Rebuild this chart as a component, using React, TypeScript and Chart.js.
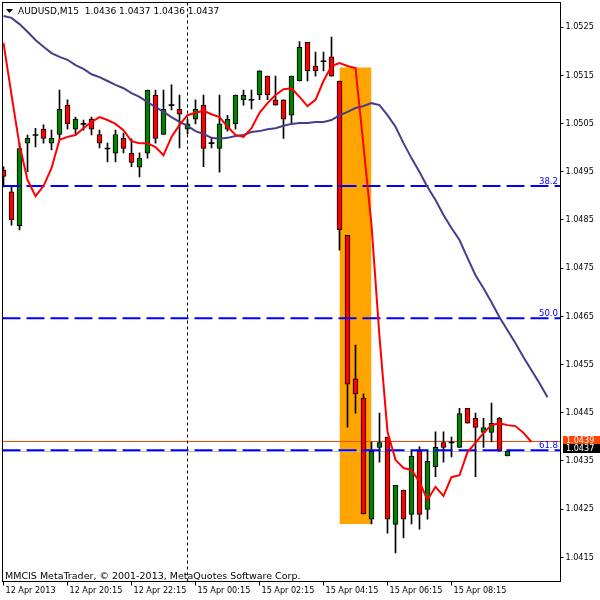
import React, { useEffect, useRef } from 'react';
import { Chart, registerables } from 'chart.js';

Chart.register(...registerables);

const FONT = "'DejaVu Sans Condensed', 'DejaVu Sans', sans-serif";
const FONT_WIDE = "'DejaVu Sans', sans-serif";

const symbol = 'AUDUSD';
const period = 'M15';
const copyright = 'MMCIS MetaTrader, \u00A9 2001-2013, MetaQuotes Software Corp.';

// OHLC of the 64 M15 bars (bar index 0 = 12 Apr 18:15)
const opens = [
  1.04953, 1.04908, 1.04838, 1.05009, 1.05026, 1.05038, 1.05009, 1.05027, 1.05088, 1.05038,
  1.05049, 1.05059, 1.05027, 1.04998, 1.04988, 1.05019, 1.04988, 1.04959, 1.04988, 1.05109,
  1.05027, 1.05088, 1.05079, 1.05038, 1.05059, 1.05088, 1.05009, 1.04998, 1.05038, 1.05049,
  1.05099, 1.05099, 1.05109, 1.05148, 1.05099, 1.05099, 1.05067, 1.05138, 1.05218, 1.05169,
  1.05179, 1.05188, 1.05138, 1.04818, 1.04520, 1.04480, 1.04229, 1.04378, 1.04399, 1.04218,
  1.04289, 1.04239, 1.04370, 1.04249, 1.04338, 1.04388, 1.04388, 1.04378, 1.04459, 1.04438,
  1.04409, 1.04409, 1.04438, 1.04360,
];
const highs = [
  1.04960, 1.04918, 1.05009, 1.05026, 1.05040, 1.05047, 1.05036, 1.05119, 1.05099, 1.05063,
  1.05057, 1.05063, 1.05036, 1.05009, 1.05036, 1.05030, 1.05018, 1.04989, 1.05119, 1.05119,
  1.05119, 1.05130, 1.05109, 1.05059, 1.05099, 1.05109, 1.05019, 1.05109, 1.05067, 1.05109,
  1.05119, 1.05119, 1.05159, 1.05148, 1.05148, 1.05099, 1.05148, 1.05220, 1.05218, 1.05198,
  1.05198, 1.05229, 1.05138, 1.04818, 1.04590, 1.04489, 1.04389, 1.04449, 1.04399, 1.04299,
  1.04289, 1.04370, 1.04379, 1.04370, 1.04410, 1.04410, 1.04399, 1.04459, 1.04459, 1.04449,
  1.04438, 1.04470, 1.04440, 1.04370,
];
const lows = [
  1.04918, 1.04839, 1.04829, 1.04950, 1.05001, 1.05009, 1.04995, 1.05016, 1.05038, 1.05026,
  1.05036, 1.05026, 1.04999, 1.04970, 1.04970, 1.04989, 1.04960, 1.04939, 1.04978, 1.05009,
  1.05027, 1.05078, 1.04999, 1.05028, 1.05049, 1.04960, 1.04999, 1.04949, 1.05034, 1.05038,
  1.05088, 1.05080, 1.05099, 1.05099, 1.05088, 1.05019, 1.05049, 1.05138, 1.05138, 1.05148,
  1.05159, 1.05148, 1.04787, 1.04420, 1.04449, 1.04240, 1.04219, 1.04347, 1.04200, 1.04159,
  1.04190, 1.04219, 1.04208, 1.04229, 1.04317, 1.04347, 1.04358, 1.04378, 1.04428, 1.04317,
  1.04378, 1.04389, 1.04370, 1.04360,
];
const closes = [
  1.04940, 1.04850, 1.04998, 1.05019, 1.05026, 1.05019, 1.05019, 1.05079, 1.05049, 1.05059,
  1.05049, 1.05038, 1.05009, 1.04998, 1.05027, 1.04998, 1.04969, 1.04978, 1.05119, 1.05019,
  1.05079, 1.05088, 1.05069, 1.05049, 1.05079, 1.04998, 1.05009, 1.05049, 1.05059, 1.05109,
  1.05109, 1.05099, 1.05159, 1.05109, 1.05088, 1.05059, 1.05148, 1.05208, 1.05159, 1.05159,
  1.05179, 1.05148, 1.04829, 1.04509, 1.04489, 1.04240, 1.04370, 1.04388, 1.04229, 1.04299,
  1.04229, 1.04360, 1.04239, 1.04349, 1.04378, 1.04378, 1.04388, 1.04448, 1.04428, 1.04419,
  1.04419, 1.04428, 1.04370, 1.04370,
];

// fast MA (red), plotted shifted forward, 67 points
const maFast = [
  1.05217, 1.05109, 1.05005, 1.04933, 1.04899, 1.04920, 1.04957, 1.05016, 1.05022, 1.05026,
  1.05040, 1.05053, 1.05063, 1.05057, 1.05049, 1.05036, 1.05013, 1.05009, 1.05009, 1.05001,
  1.04984, 1.05022, 1.05047, 1.05067, 1.05072, 1.05076, 1.05069, 1.05063, 1.05043, 1.05026,
  1.05022, 1.05040, 1.05072, 1.05092, 1.05109, 1.05121, 1.05123, 1.05105, 1.05086, 1.05099,
  1.05138, 1.05169, 1.05175, 1.05169, 1.05165, 1.05003, 1.04839, 1.04607, 1.04410, 1.04352,
  1.04335, 1.04331, 1.04306, 1.04269, 1.04296, 1.04277, 1.04316, 1.04320, 1.04368, 1.04387,
  1.04408, 1.04424, 1.04428, 1.04424, 1.04422, 1.04408, 1.04389,
];
// slow MA (dark slate blue), plotted shifted forward, 69 points
const maSlow = [
  1.05273, 1.05269, 1.05256, 1.05240, 1.05223, 1.05209, 1.05196, 1.05188, 1.05182, 1.05171,
  1.05163, 1.05152, 1.05146, 1.05138, 1.05130, 1.05123, 1.05113, 1.05105, 1.05094, 1.05084,
  1.05074, 1.05063, 1.05053, 1.05045, 1.05034, 1.05028, 1.05020, 1.05018, 1.05020, 1.05024,
  1.05026, 1.05032, 1.05034, 1.05038, 1.05040, 1.05045, 1.05049, 1.05051, 1.05051, 1.05053,
  1.05053, 1.05057, 1.05067, 1.05074, 1.05082, 1.05086, 1.05092, 1.05088, 1.05067, 1.05043,
  1.05009, 1.04978, 1.04949, 1.04918, 1.04891, 1.04860, 1.04833, 1.04808, 1.04771, 1.04735,
  1.04708, 1.04679, 1.04648, 1.04621, 1.04594, 1.04565, 1.04538, 1.04511, 1.04482,
];

const xTickBars = [0, 8, 16, 24, 32, 40, 48, 56];
const xTickLabels = [
  '12 Apr 2013', '12 Apr 20:15', '12 Apr 22:15', '15 Apr 00:15',
  '15 Apr 02:15', '15 Apr 04:15', '15 Apr 06:15', '15 Apr 08:15',
];
const yTicks = [1.0415, 1.0425, 1.0435, 1.0445, 1.0455, 1.0465, 1.0475, 1.0485, 1.0495, 1.0505, 1.0515, 1.0525];
const xView = [-0.125, 69.625];
const yView = [1.0409959, 1.0530083];

const daySeparators = [23];
const fibLabels = ['38.2', '50.0', '61.8'];
const fibPrices = [1.0492, 1.04646, 1.04372];
const bidPrice = 1.0439;
const askPrice = 1.0437;
const zoneBars = [42, 46];
const zonePrices = [1.05166, 1.04219];

const GREEN = '#008000';
const RED = '#FF0000';
const BID_COLOR = '#FF4500';
const ASK_COLOR = '#C0C0C0';

function zeroPadding(s: any) {
  s.paddingTop = 0;
  s.paddingBottom = 0;
  s.paddingLeft = 0;
  s.paddingRight = 0;
}

function buildConfig(): any {
  const idx = opens.map((_, i) => i);
  const isDoji = (i: number) => Math.abs(opens[i] - closes[i]) < 0.00003;
  const bodies = idx.map((i) => ({
    x: i,
    y: isDoji(i) ? [opens[i] - 0.00001, opens[i] + 0.00001] : [opens[i], closes[i]],
  }));
  const bodyColors = idx.map((i) => (isDoji(i) ? '#000000' : closes[i] > opens[i] ? GREEN : RED));
  const bodyBorders = idx.map((i) => (isDoji(i) ? 0 : 1));
  const wicks = idx.map((i) => ({ x: i, y: [lows[i], highs[i]] }));

  const hLine = (p: number) => [{ x: xView[0], y: p }, { x: xView[1], y: p }];

  const datasets: any[] = [
    // moving averages (top)
    { type: 'line', data: maFast.map((v, i) => ({ x: i, y: v })), borderColor: '#FF0000', borderWidth: 2, pointRadius: 0, fill: false, tension: 0, order: 1 },
    { type: 'line', data: maSlow.map((v, i) => ({ x: i, y: v })), borderColor: '#483D8B', borderWidth: 2, pointRadius: 0, fill: false, tension: 0, order: 2 },
    // fibonacci levels
    ...fibPrices.map((p) => ({ type: 'line', data: hLine(p), borderColor: '#0000FF', borderWidth: 2, borderDash: [18, 6], pointRadius: 0, fill: false, order: 3 })),
    // candle bodies
    { type: 'bar', data: bodies, backgroundColor: bodyColors, borderColor: '#000000', borderWidth: bodyBorders, borderSkipped: false, barThickness: 5, grouped: false, order: 5 },
    // wicks
    { type: 'bar', data: wicks, backgroundColor: '#000000', borderColor: '#000000', borderWidth: 0, barThickness: 1, grouped: false, order: 6 },
    // day separator
    ...daySeparators.map((b) => ({ type: 'line', data: [{ x: b, y: yView[1] }, { x: b, y: yView[0] }], borderColor: '#000000', borderWidth: 1, borderDash: [3, 3], pointRadius: 0, fill: false, order: 7 })),
    // highlighted zone (rectangle)
    { type: 'line', label: 'zone', data: zoneBars.map((b) => ({ x: b, y: zonePrices[0] })), borderColor: 'rgba(0,0,0,0)', borderWidth: 0, pointRadius: 0, fill: '+1', backgroundColor: '#FFA500', order: 9 },
    { type: 'line', data: zoneBars.map((b) => ({ x: b, y: zonePrices[1] })), borderColor: 'rgba(0,0,0,0)', borderWidth: 0, pointRadius: 0, fill: false, order: 9 },
  ];

  const overlay = {
    id: 'mtOverlay',
    beforeDraw(chart: any) {
      const { ctx, width, height } = chart;
      ctx.save();
      ctx.fillStyle = '#FFFFFF';
      ctx.fillRect(0, 0, width, height);
      ctx.restore();
    },
    afterDatasetDraw(chart: any, args: any) {
      if (chart.data.datasets[args.index].label !== 'zone') return;
      // bid / ask price lines, just above the highlighted zone
      const { ctx, chartArea: a, scales } = chart;
      const ys = scales.y;
      ctx.save();
      ctx.setLineDash([]);
      ctx.lineWidth = 1;
      [
        [askPrice, ASK_COLOR],
        [bidPrice, BID_COLOR],
      ].forEach(([p, col]: any) => {
        const y = Math.floor(ys.getPixelForValue(p)) + 0.5;
        ctx.strokeStyle = col;
        ctx.beginPath();
        ctx.moveTo(a.left, y);
        ctx.lineTo(a.right, y);
        ctx.stroke();
      });
      ctx.restore();
    },
    afterDraw(chart: any) {
      const { ctx, chartArea: a, scales } = chart;
      const ys = scales.y;
      ctx.save();
      // frame
      ctx.strokeStyle = '#000000';
      ctx.lineWidth = 1;
      ctx.setLineDash([]);
      ctx.strokeRect(a.left, a.top, a.right - a.left, a.bottom - a.top);
      // fib labels
      ctx.font = `9.5px ${FONT}`;
      ctx.fillStyle = '#0000FF';
      ctx.textAlign = 'right';
      ctx.textBaseline = 'alphabetic';
      fibPrices.forEach((p, i) => {
        ctx.fillText(fibLabels[i], a.right - 2.5, ys.getPixelForValue(p) - 2.5);
      });
      // title
      ctx.fillStyle = '#000000';
      ctx.beginPath();
      ctx.moveTo(6, 9);
      ctx.lineTo(13, 9);
      ctx.lineTo(9.5, 13);
      ctx.closePath();
      ctx.fill();
      ctx.textAlign = 'left';
      ctx.font = `9px ${FONT_WIDE}`;
      const last = opens.length - 1;
      const title = `${symbol},${period}  ${opens[last].toFixed(4)} ${highs[last].toFixed(4)} ${lows[last].toFixed(4)} ${closes[last].toFixed(4)}`;
      ctx.fillText(title, 18, 14);
      // copyright
      ctx.font = `9.5px ${FONT_WIDE}`;
      ctx.fillText(copyright, 5, 579);
      // price boxes
      ctx.font = `9px ${FONT}`;
      const bidY = Math.round(ys.getPixelForValue(bidPrice));
      const boxX = Math.round(a.right + 2.5);
      const boxW = chart.width - boxX;
      ctx.fillStyle = BID_COLOR;
      ctx.fillRect(boxX, bidY - 6, boxW, 8);
      ctx.fillStyle = '#000000';
      ctx.fillRect(boxX, bidY + 2, boxW, 9);
      ctx.fillStyle = '#FFFFFF';
      ctx.textBaseline = 'middle';
      ctx.fillText(bidPrice.toFixed(4), boxX + 3, bidY - 1.5);
      ctx.fillText(askPrice.toFixed(4), boxX + 3, bidY + 7);
      ctx.restore();
    },
  };

  return {
    type: 'line',
    data: { datasets },
    plugins: [overlay],
    options: {
      animation: false,
      responsive: false,
      devicePixelRatio: 1,
      layout: { padding: { left: 2.5, top: 2.5, right: 0, bottom: 0 } },
      plugins: { legend: { display: false }, tooltip: { enabled: false }, title: { display: false } },
      scales: {
        x: {
          type: 'linear',
          position: 'bottom',
          min: xView[0],
          max: xView[1],
          offset: false,
          grid: { offset: false, drawOnChartArea: false, drawTicks: true, tickLength: 4, color: '#000000' },
          border: { display: false },
          afterBuildTicks: (s: any) => { s.ticks = xTickBars.map((v) => ({ value: v })); },
          afterFit: (s: any) => { s.height = 18.5; zeroPadding(s); },
          ticks: {
            autoSkip: false,
            maxRotation: 0,
            minRotation: 0,
            align: 'start',
            labelOffset: 2,
            padding: 0,
            color: '#000000',
            font: { family: FONT, size: 9 },
            callback: (v: any) => {
              const k = xTickBars.indexOf(Number(v));
              return k >= 0 ? xTickLabels[k] : '';
            },
          },
        },
        y: {
          type: 'linear',
          position: 'right',
          min: yView[0],
          max: yView[1],
          beginAtZero: false,
          grid: { drawOnChartArea: false, drawTicks: true, tickLength: 3, color: '#000000' },
          border: { display: false },
          afterBuildTicks: (s: any) => { s.ticks = yTicks.map((v) => ({ value: v })); },
          afterFit: (s: any) => { s.width = 39.5; zeroPadding(s); },
          ticks: {
            color: '#000000',
            padding: 2,
            font: { family: FONT, size: 9 },
            callback: (v: any) => Number(v).toFixed(4),
          },
        },
      },
    },
  };
}

export default function App() {
  const ref = useRef<HTMLCanvasElement>(null);
  useEffect(() => {
    if (!ref.current) return;
    const chart = new Chart(ref.current, buildConfig());
    return () => chart.destroy();
  }, []);
  return (
    <div style={{ position: 'absolute', left: 0, top: 0, width: 600, height: 600, background: '#fff' }}>
      <canvas ref={ref} width={600} height={600} style={{ display: 'block', width: 600, height: 600 }} />
    </div>
  );
}
